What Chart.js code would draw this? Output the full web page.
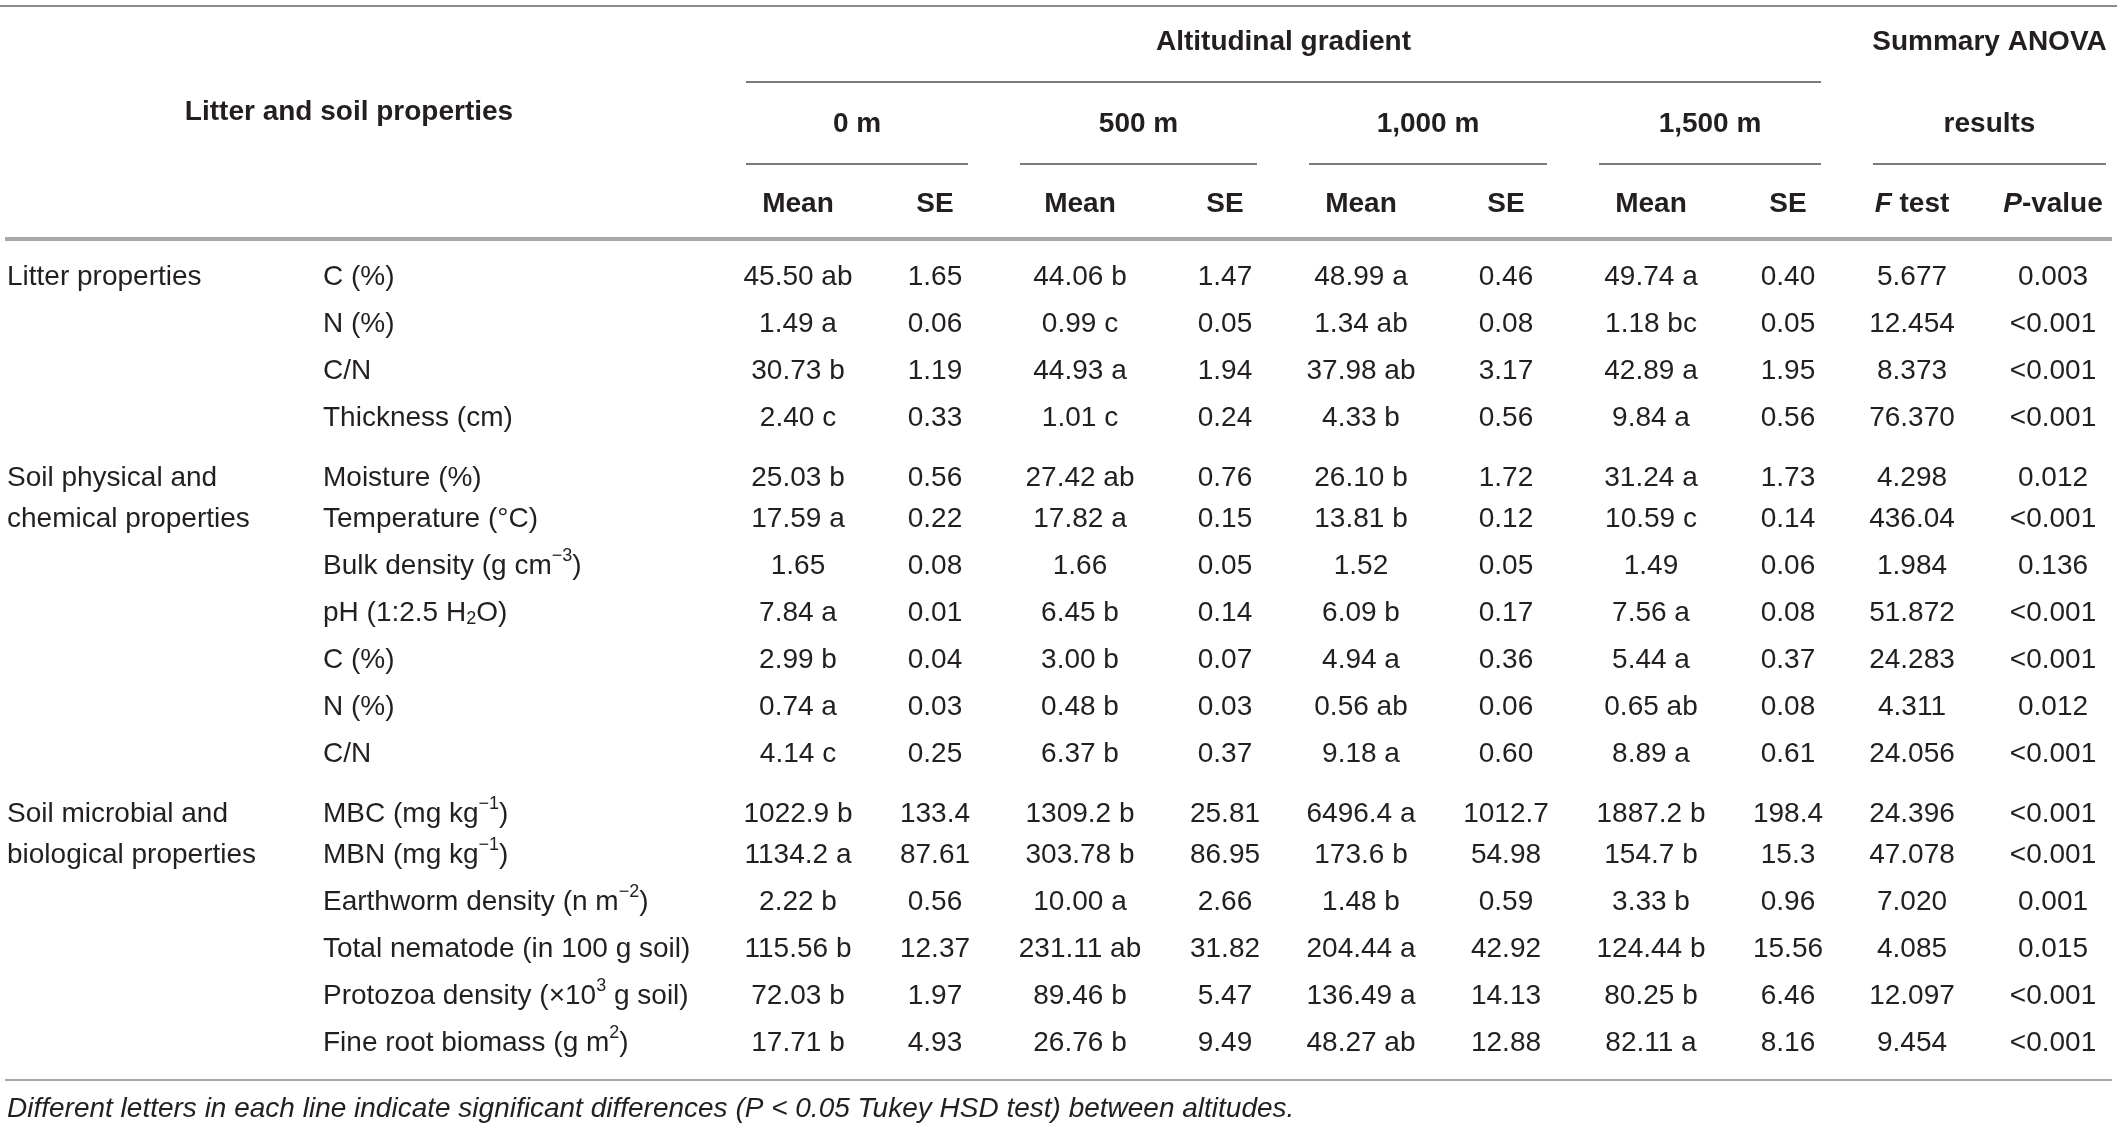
<!DOCTYPE html>
<html>
<head>
<meta charset="utf-8">
<script src="https://cdn.jsdelivr.net/npm/chart.js@4.4.1/dist/chart.umd.min.js"></script>
<style>
  body { margin: 0; background: #fff; }
  canvas { display: block; }
</style>
</head>
<body>
<canvas id="tbl" width="2117" height="1129"></canvas>
<script>
// table content
const groups = ['Litter properties', 'Soil physical and\nchemical properties', 'Soil microbial and\nbiological properties'];
const groupOfRow = [0, 0, 0, 0, 1, 1, 1, 1, 1, 1, 1, 2, 2, 2, 2, 2, 2];
const properties = ['C (%)', 'N (%)', 'C/N', 'Thickness (cm)', 'Moisture (%)', 'Temperature (°C)',
  'Bulk density (g cm^{−3})', 'pH (1:2.5 H_{2}O)', 'C (%)', 'N (%)', 'C/N',
  'MBC (mg kg^{−1})', 'MBN (mg kg^{−1})', 'Earthworm density (n m^{−2})', 'Total nematode (in 100 g soil)',
  'Protozoa density (×10^{3} g soil)', 'Fine root biomass (g m^{2})'];
const altitudes = ['0 m', '500 m', '1,000 m', '1,500 m'];
const mean0 = ['45.50 ab', '1.49 a', '30.73 b', '2.40 c', '25.03 b', '17.59 a', '1.65', '7.84 a', '2.99 b', '0.74 a', '4.14 c', '1022.9 b', '1134.2 a', '2.22 b', '115.56 b', '72.03 b', '17.71 b'];
const se0 = ['1.65', '0.06', '1.19', '0.33', '0.56', '0.22', '0.08', '0.01', '0.04', '0.03', '0.25', '133.4', '87.61', '0.56', '12.37', '1.97', '4.93'];
const mean500 = ['44.06 b', '0.99 c', '44.93 a', '1.01 c', '27.42 ab', '17.82 a', '1.66', '6.45 b', '3.00 b', '0.48 b', '6.37 b', '1309.2 b', '303.78 b', '10.00 a', '231.11 ab', '89.46 b', '26.76 b'];
const se500 = ['1.47', '0.05', '1.94', '0.24', '0.76', '0.15', '0.05', '0.14', '0.07', '0.03', '0.37', '25.81', '86.95', '2.66', '31.82', '5.47', '9.49'];
const mean1000 = ['48.99 a', '1.34 ab', '37.98 ab', '4.33 b', '26.10 b', '13.81 b', '1.52', '6.09 b', '4.94 a', '0.56 ab', '9.18 a', '6496.4 a', '173.6 b', '1.48 b', '204.44 a', '136.49 a', '48.27 ab'];
const se1000 = ['0.46', '0.08', '3.17', '0.56', '1.72', '0.12', '0.05', '0.17', '0.36', '0.06', '0.60', '1012.7', '54.98', '0.59', '42.92', '14.13', '12.88'];
const mean1500 = ['49.74 a', '1.18 bc', '42.89 a', '9.84 a', '31.24 a', '10.59 c', '1.49', '7.56 a', '5.44 a', '0.65 ab', '8.89 a', '1887.2 b', '154.7 b', '3.33 b', '124.44 b', '80.25 b', '82.11 a'];
const se1500 = ['0.40', '0.05', '1.95', '0.56', '1.73', '0.14', '0.06', '0.08', '0.37', '0.08', '0.61', '198.4', '15.3', '0.96', '15.56', '6.46', '8.16'];
const fTest = ['5.677', '12.454', '8.373', '76.370', '4.298', '436.04', '1.984', '51.872', '24.283', '4.311', '24.056', '24.396', '47.078', '7.020', '4.085', '12.097', '9.454'];
const pValue = ['0.003', '<0.001', '<0.001', '<0.001', '0.012', '<0.001', '0.136', '<0.001', '<0.001', '0.012', '<0.001', '<0.001', '<0.001', '0.001', '0.015', '<0.001', '<0.001'];
const footnote = 'Different letters in each line indicate significant differences (P < 0.05 Tukey HSD test) between altitudes.';

// layout (scale units = canvas px)
const W = 2117, H = 1129;
const FONT = '"Liberation Sans", Arial, sans-serif';
const INK = '#231f20';
const colX = { group: 7, prop: 323, m0: 798, s0: 935, m500: 1080, s500: 1225, m1000: 1361, s1000: 1506, m1500: 1651, s1500: 1788, f: 1912, p: 2053 };
const altSpans = [[746, 968], [1020, 1257], [1309, 1547], [1599, 1821]];
const anovaSpan = [1873, 2106];

const rowY = [];
groupOfRow.forEach((g, i) => {
  if (i === 0) rowY.push(277);
  else if (g !== groupOfRow[i - 1]) rowY.push(rowY[i - 1] + 60);
  else if (groups[g].includes('\n') && groupOfRow[i - 2] !== g) rowY.push(rowY[i - 1] + 41);
  else rowY.push(rowY[i - 1] + 47);
});

const columns = [
  { key: 'prop', values: properties, align: 'left' },
  { key: 'm0', values: mean0 }, { key: 's0', values: se0 },
  { key: 'm500', values: mean500 }, { key: 's500', values: se500 },
  { key: 'm1000', values: mean1000 }, { key: 's1000', values: se1000 },
  { key: 'm1500', values: mean1500 }, { key: 's1500', values: se1500 },
  { key: 'f', values: fTest }, { key: 'p', values: pValue }
];

// text with ^{sup}, _{sub}, *italic*
function drawRich(ctx, text, x, y, align, size, weight, italic) {
  const parts = [];
  const re = /\^\{([^}]*)\}|_\{([^}]*)\}|\*([^*]*)\*|([^\^_*]+)/g;
  let m;
  while ((m = re.exec(text))) {
    if (m[1] !== undefined) parts.push({ t: m[1], k: 'sup' });
    else if (m[2] !== undefined) parts.push({ t: m[2], k: 'sub' });
    else if (m[3] !== undefined) parts.push({ t: m[3], k: 'it' });
    else parts.push({ t: m[4], k: 'n' });
  }
  const fontOf = k => {
    const s = (k === 'sup' || k === 'sub') ? Math.round(size * 0.66) : size;
    return `${italic || k === 'it' ? 'italic ' : ''}${weight} ${s}px ${FONT}`;
  };
  let total = 0;
  parts.forEach(p => { ctx.font = fontOf(p.k); p.w = ctx.measureText(p.t).width; total += p.w; });
  let cx = align === 'left' ? x : align === 'right' ? x - total : x - total / 2;
  ctx.textAlign = 'left';
  ctx.textBaseline = 'middle';
  ctx.fillStyle = INK;
  parts.forEach(p => {
    ctx.font = fontOf(p.k);
    const dy = p.k === 'sup' ? -size * 0.36 : p.k === 'sub' ? size * 0.22 : 0;
    ctx.fillText(p.t, cx, y + dy);
    cx += p.w;
  });
}

const tablePlugin = {
  id: 'tablePlugin',
  afterDatasetsDraw(chart) {
    const ctx = chart.ctx;
    const xs = chart.scales.x, ys = chart.scales.y;
    const px = v => xs.getPixelForValue(v), py = v => ys.getPixelForValue(v);
    ctx.save();

    const rule = (x0, x1, y, w, color) => {
      ctx.beginPath();
      ctx.lineWidth = w;
      ctx.strokeStyle = color;
      ctx.moveTo(px(x0), py(y));
      ctx.lineTo(px(x1), py(y));
      ctx.stroke();
    };
    rule(0, W, 6, 2, '#8c8c8c');
    rule(altSpans[0][0], altSpans[3][1], 82, 2, '#7a7a7a');
    altSpans.concat([anovaSpan]).forEach(s => rule(s[0], s[1], 164, 2, '#7a7a7a'));
    rule(5, 2112, 239, 4, '#a8a8a8');
    rule(5, 2112, 1080, 2, '#a8a8a8');

    // header
    const HB = 28;
    drawRich(ctx, 'Altitudinal gradient', px((altSpans[0][0] + altSpans[3][1]) / 2), py(42), 'center', HB, 'bold');
    drawRich(ctx, 'Summary ANOVA', px((anovaSpan[0] + anovaSpan[1]) / 2), py(42), 'center', HB, 'bold');
    drawRich(ctx, 'results', px((anovaSpan[0] + anovaSpan[1]) / 2), py(124), 'center', HB, 'bold');
    drawRich(ctx, 'Litter and soil properties', px(349), py(112), 'center', HB, 'bold');
    altitudes.forEach((a, i) => drawRich(ctx, a, px((altSpans[i][0] + altSpans[i][1]) / 2), py(124), 'center', HB, 'bold'));
    ['m0', 'm500', 'm1000', 'm1500'].forEach(k => drawRich(ctx, 'Mean', px(colX[k]), py(204), 'center', HB, 'bold'));
    ['s0', 's500', 's1000', 's1500'].forEach(k => drawRich(ctx, 'SE', px(colX[k]), py(204), 'center', HB, 'bold'));
    drawRich(ctx, '*F* test', px(colX.f), py(204), 'center', HB, 'bold');
    drawRich(ctx, '*P*-value', px(colX.p), py(204), 'center', HB, 'bold');

    // group labels, one line per table row
    groups.forEach((g, gi) => {
      const first = groupOfRow.indexOf(gi);
      g.split('\n').forEach((line, k) => drawRich(ctx, line, px(colX.group), py(rowY[first + k]), 'left', 28, 'normal'));
    });

    // cells, placed at each point of the datasets
    chart.data.datasets.forEach((ds, di) => {
      chart.getDatasetMeta(di).data.forEach((pt, i) => {
        drawRich(ctx, ds.cellText[i], pt.x, pt.y, ds.align, 28, 'normal');
      });
    });

    drawRich(ctx, footnote, px(7), py(1109), 'left', 28, 'normal', true);
    ctx.restore();
  }
};

new Chart(document.getElementById('tbl'), {
  type: 'scatter',
  data: {
    datasets: columns.map(c => ({
      label: c.key,
      data: c.values.map((v, i) => ({ x: colX[c.key], y: rowY[i] })),
      cellText: c.values,
      align: c.align || 'center',
      pointRadius: 0,
      pointHoverRadius: 0
    }))
  },
  options: {
    responsive: false,
    devicePixelRatio: 1,
    animation: false,
    events: [],
    layout: { padding: 0 },
    plugins: { legend: { display: false }, tooltip: { enabled: false } },
    scales: {
      x: { type: 'linear', min: 0, max: W, display: false },
      y: { type: 'linear', min: 0, max: H, reverse: true, display: false }
    }
  },
  plugins: [tablePlugin]
});
</script>
</body>
</html>
